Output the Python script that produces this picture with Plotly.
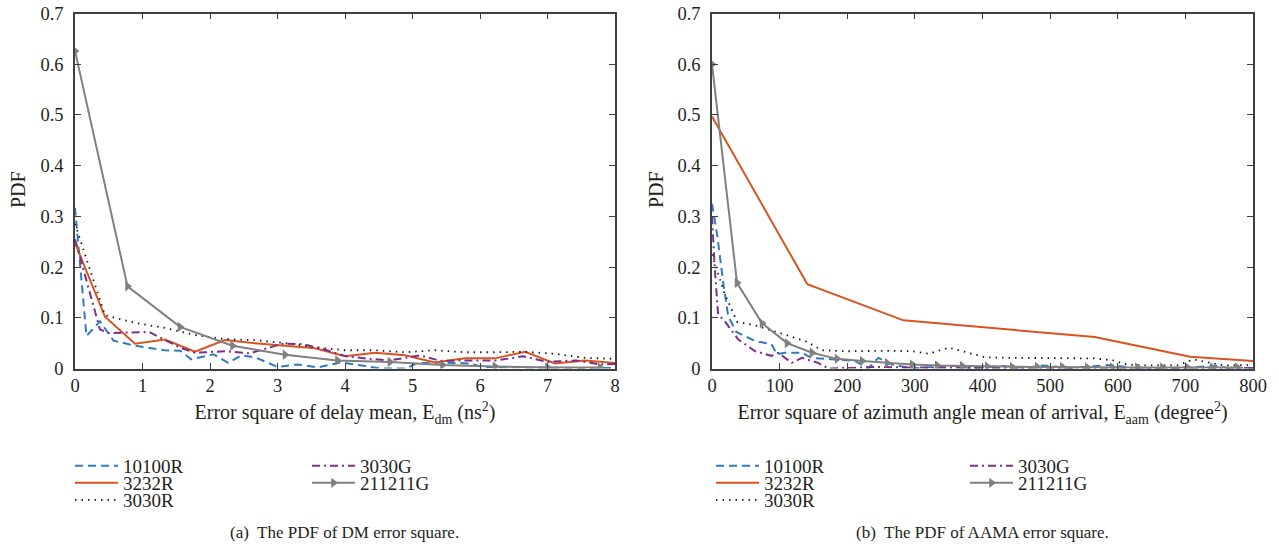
import plotly.graph_objects as go

# ---------------- data: (a) delay mean error square ----------------
a_10100R_x = [0, 0.17, 0.37, 0.57, 0.89, 1.33, 1.56, 1.72, 2.05, 2.27, 2.47, 2.67, 3.0, 3.3, 3.6, 3.93, 4.3, 4.52, 4.91, 5.06, 5.41, 5.85, 6.04, 6.5, 7.0, 7.5, 8.0]
a_10100R_y = [0.317, 0.064, 0.093, 0.055, 0.045, 0.036, 0.035, 0.018, 0.028, 0.011, 0.026, 0.022, 0.003, 0.008, 0.002, 0.012, 0.005, 0.0, 0.0, 0.010, 0.012, 0.010, 0.003, 0.002, 0.002, 0.001, 0.001]

a_grid = [0, 0.444, 0.889, 1.333, 1.778, 2.222, 2.667, 3.111, 3.556, 4.0, 4.444, 4.889, 5.333, 5.778, 6.222, 6.667, 7.111, 7.556, 8.0]
a_3232R_y = [0.248, 0.102, 0.049, 0.057, 0.033, 0.056, 0.050, 0.045, 0.040, 0.024, 0.031, 0.026, 0.012, 0.020, 0.020, 0.033, 0.010, 0.016, 0.011]
a_3030R_y = [0.285, 0.105, 0.090, 0.080, 0.066, 0.058, 0.056, 0.050, 0.042, 0.036, 0.036, 0.032, 0.036, 0.032, 0.032, 0.033, 0.029, 0.021, 0.019]

a_3030G_x = [0, 0.37, 0.5, 1.1, 1.56, 1.78, 2.22, 2.59, 3.08, 3.38, 3.73, 4.02, 4.37, 4.67, 5.11, 5.41, 5.9, 6.25, 6.64, 7.0, 7.43, 7.78, 8.0]
a_3030G_y = [0.255, 0.077, 0.070, 0.072, 0.041, 0.031, 0.034, 0.030, 0.049, 0.048, 0.036, 0.024, 0.019, 0.016, 0.026, 0.015, 0.016, 0.016, 0.024, 0.013, 0.016, 0.008, 0.009]

a_211211G_x = [0, 0.778, 1.556, 2.333, 3.111, 3.889, 4.667, 5.444, 6.222, 7.0, 7.778]
a_211211G_y = [0.626, 0.162, 0.082, 0.045, 0.027, 0.016, 0.013, 0.007, 0.004, 0.002, 0.002]

# ---------------- data: (b) azimuth angle mean error square ----------------
b_10100R_x = [0, 8, 17, 24, 36, 64, 88, 96, 108, 133, 147, 177, 211, 231, 246, 266, 295, 345, 364, 379, 431, 460, 490, 530, 574, 589, 623, 680, 747, 762, 800]
b_10100R_y = [0.325, 0.26, 0.165, 0.103, 0.072, 0.054, 0.048, 0.028, 0.031, 0.031, 0.021, 0.018, 0.015, 0.0, 0.021, 0.008, 0.0, 0.005, 0.005, 0.0, 0.005, 0.001, 0.006, 0.001, 0.006, 0.007, 0.001, 0.001, 0.005, 0.001, 0.001]

b_3232R_x = [0, 141, 283, 566, 707, 800]
b_3232R_y = [0.497, 0.166, 0.095, 0.062, 0.023, 0.015]

b_3030R_x = [0, 18, 37, 64, 100, 138, 163, 200, 266, 296, 320, 350, 379, 404, 440, 490, 564, 593, 613, 638, 688, 712, 732, 756, 800]
b_3030R_y = [0.225, 0.15, 0.092, 0.085, 0.070, 0.054, 0.036, 0.034, 0.035, 0.034, 0.029, 0.041, 0.031, 0.022, 0.021, 0.021, 0.020, 0.016, 0.008, 0.006, 0.006, 0.018, 0.012, 0.006, 0.007]

b_3030G_x = [0, 4, 9, 19, 39, 64, 88, 98, 118, 133, 157, 172, 246, 285, 400, 500, 600, 700, 800]
b_3030G_y = [0.30, 0.20, 0.107, 0.093, 0.057, 0.034, 0.025, 0.031, 0.011, 0.021, 0.011, 0.0, 0.003, 0.002, 0.001, 0.001, 0.002, 0.001, 0.001]

b_211211G_x = [0, 37, 74, 111, 148, 185, 222, 259, 296, 333, 370, 407, 444, 481, 518, 555, 592, 629, 666, 703, 740, 777]
b_211211G_y = [0.600, 0.169, 0.089, 0.050, 0.031, 0.019, 0.015, 0.011, 0.008, 0.006, 0.005, 0.004, 0.003, 0.003, 0.003, 0.002, 0.002, 0.002, 0.002, 0.002, 0.002, 0.002]

series_names = ["10100R", "3232R", "3030R", "3030G", "211211G"]
y_ticks = [0, 0.1, 0.2, 0.3, 0.4, 0.5, 0.6, 0.7]
a_x_ticks = [0, 1, 2, 3, 4, 5, 6, 7, 8]
b_x_ticks = [0, 100, 200, 300, 400, 500, 600, 700, 800]

# ---------------- styles ----------------
FONT = "Liberation Serif"
TXT = "#231f20"
AX = "#404040"
styles = {
    "10100R": dict(color="#2f7bbf", width=2, dash="8px,5px"),
    "3232R": dict(color="#d9541e", width=2, dash="solid"),
    "3030R": dict(color="#1a1a1a", width=1.8, dash="1.5px,5px"),
    "3030G": dict(color="#7b2f8c", width=2, dash="8px,4px,2px,4px"),
    "211211G": dict(color="#808080", width=2, dash="solid"),
}

# body margin is removed by the post script, so the figure fills the window exactly
W, H = 1279, 550

def fx(px):
    return px / W

def fy(py):
    return 1 - py / H

# legend row positions (window pixels): name -> (column x, row y)
a_leg_pos = {"10100R": (70, 466), "3232R": (70, 483), "3030R": (70, 500), "3030G": (307, 466), "211211G": (307, 483)}
b_leg_pos = {"10100R": (711, 466), "3232R": (711, 483), "3030R": (711, 500), "3030G": (965, 466), "211211G": (965, 483)}

fig = go.Figure()
legends = {}
counter = [0]

def add(x, y, name, xa, ya, pos):
    counter[0] += 1
    lname = "legend" if counter[0] == 1 else f"legend{counter[0]}"
    kw = {}
    if name == "211211G":
        mode = "lines+markers"
        kw["marker"] = dict(symbol="triangle-right", size=9, color="#808080")
    else:
        mode = "lines"
    fig.add_trace(go.Scatter(x=x, y=y, name=name, mode=mode, line=styles[name],
                             xaxis=xa, yaxis=ya, legend=lname, **kw))
    px, py = pos[name]
    legends[lname] = dict(x=fx(px), y=fy(py), xanchor="left", yanchor="middle",
                          bgcolor="rgba(0,0,0,0)", borderwidth=0,
                          font=dict(family=FONT, size=19, color=TXT), itemwidth=43)

add(a_10100R_x, a_10100R_y, "10100R", "x", "y", a_leg_pos)
add(a_grid, a_3232R_y, "3232R", "x", "y", a_leg_pos)
add(a_grid, a_3030R_y, "3030R", "x", "y", a_leg_pos)
add(a_3030G_x, a_3030G_y, "3030G", "x", "y", a_leg_pos)
add(a_211211G_x, a_211211G_y, "211211G", "x", "y", a_leg_pos)

add(b_10100R_x, b_10100R_y, "10100R", "x2", "y2", b_leg_pos)
add(b_3232R_x, b_3232R_y, "3232R", "x2", "y2", b_leg_pos)
add(b_3030R_x, b_3030R_y, "3030R", "x2", "y2", b_leg_pos)
add(b_3030G_x, b_3030G_y, "3030G", "x2", "y2", b_leg_pos)
add(b_211211G_x, b_211211G_y, "211211G", "x2", "y2", b_leg_pos)

ydom = [fy(368.5), fy(13.5)]

def xax(dom, rng, ticks, title, anchor):
    return dict(domain=dom, range=rng, tickvals=ticks, ticks="inside", ticklen=6, tickwidth=1.3,
                tickcolor=AX, showline=True, linecolor=AX, linewidth=1.5, mirror="ticks",
                showgrid=False, zeroline=False, automargin=False, anchor=anchor,
                ticklabeloverflow="allow",
                tickfont=dict(family=FONT, size=18.5, color=TXT),
                title=dict(text=title, font=dict(family=FONT, size=20, color=TXT), standoff=10))

def yax(anchor, ticks):
    return dict(domain=ydom, range=[0, 0.7], tickvals=ticks, ticks="inside", ticklen=6, tickwidth=1.3,
                tickcolor=AX, showline=True, linecolor=AX, linewidth=1.5, mirror="ticks",
                showgrid=False, zeroline=False, anchor=anchor, ticklabelstandoff=6, automargin=False,
                ticklabeloverflow="allow",
                tickfont=dict(family=FONT, size=18.5, color=TXT))

def note(text, px, py, size, angle=0):
    return dict(text=text, x=fx(px), y=fy(py), xref="paper", yref="paper", xanchor="center",
                yanchor="middle", textangle=angle, showarrow=False,
                font=dict(family=FONT, size=size, color=TXT))

fig.update_layout(
    width=W, height=H, margin=dict(l=0, r=0, t=0, b=0, autoexpand=False),
    paper_bgcolor="white", plot_bgcolor="white", showlegend=True,
    xaxis=xax([fx(75), fx(615)], [0, 8], a_x_ticks,
              "Error square of delay mean, E<sub>dm</sub> (ns<sup>2</sup>)", "y"),
    yaxis=yax("x", y_ticks),
    xaxis2=xax([fx(712), fx(1253)], [0, 800], b_x_ticks,
               "Error square of azimuth angle mean of arrival, E<sub>aam</sub> (degree<sup>2</sup>)", "y2"),
    yaxis2=yax("x2", y_ticks),
    annotations=[
        note("PDF", 18, 190, 20, -90),
        note("PDF", 656, 190, 20, -90),
        note("(a)  The PDF of DM error square.", 345, 532, 17),
        note("(b)  The PDF of AAMA error square.", 982, 532, 17),
    ],
    **legends,
)

fig.write_html("out.html", config={"displayModeBar": False},
               post_script="document.body.style.margin='0';document.body.style.overflow='hidden';")
